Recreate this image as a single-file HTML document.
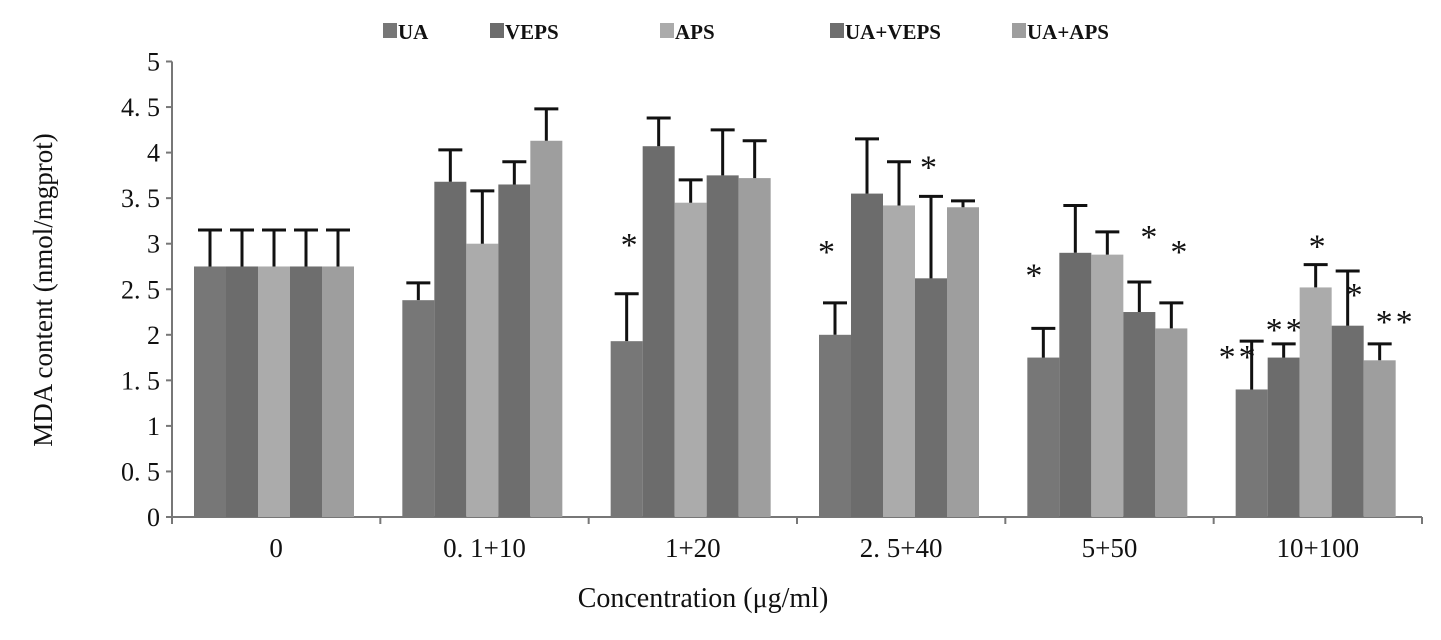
<!DOCTYPE html>
<html><head><meta charset="utf-8"><style>
body{margin:0;background:#fff;width:1441px;height:635px;overflow:hidden}
svg text{font-family:"Liberation Serif","Noto Serif CJK SC",serif;fill:#111}
</style></head><body>
<svg id="chart" width="1441" height="635" xmlns="http://www.w3.org/2000/svg"></svg>
<script>
const categories=["0","0. 1+10","1+20","2. 5+40","5+50","10+100"];
const seriesNames=["UA","VEPS","APS","UA+VEPS","UA+APS"];
const uaVals=[2.75,2.38,1.93,2.0,1.75,1.4];
const vepsVals=[2.75,3.68,4.07,3.55,2.9,1.75];
const apsVals=[2.75,3.0,3.45,3.42,2.88,2.52];
const uaVepsVals=[2.75,3.65,3.75,2.62,2.25,2.1];
const uaApsVals=[2.75,4.13,3.72,3.4,2.07,1.72];
const uaErr=[3.15,2.57,2.45,2.35,2.07,1.93];
const vepsErr=[3.15,4.03,4.38,4.15,3.42,1.9];
const apsErr=[3.15,3.58,3.7,3.9,3.13,2.77];
const uaVepsErr=[3.15,3.9,4.25,3.52,2.58,2.7];
const uaApsErr=[3.15,4.48,4.13,3.47,2.35,1.9];
const marks=[["","","","",""],["","","","",""],["*","","","",""],["*","","","*",""],["*","","","*","*"],["**","**","*","*","**"]];
const yTicks=["0","0. 5","1","1. 5","2","2. 5","3","3. 5","4","4. 5","5"];
const yTickVals=[0,0.5,1,1.5,2,2.5,3,3.5,4,4.5,5];
// annotation placement offsets (style, px relative to error-bar top)
const markOffset={"2-0":[4,-51],"3-0":[-7,-53],"3-3":[-1,-31],"4-0":[-8,-55],"4-3":[11,-47],"4-4":[9,-53],"5-0":[-13,14],"5-1":[2,-16],"5-2":[3,-20],"5-3":[8,22],"5-4":[16,-24]};
const colors=["#777777","#6c6c6c","#ababab","#6e6e6e","#9e9e9e"];
const NS="http://www.w3.org/2000/svg";
const svg=document.getElementById('chart');
const x0=172,x1=1422,y0=517,pxPer=91.1;
const gw=(x1-x0)/categories.length, bw=32;
const Y=v=>y0-v*pxPer;
const X=(g,s)=>x0+g*gw+22+s*bw;
function mk(t,a){const e=document.createElementNS(NS,t);for(const k in a)e.setAttribute(k,a[k]);svg.appendChild(e);return e;}
const vals=[uaVals,vepsVals,apsVals,uaVepsVals,uaApsVals];
const errs=[uaErr,vepsErr,apsErr,uaVepsErr,uaApsErr];
let e=mk('line',{x1:x0,y1:Y(0),x2:x0,y2:Y(5),stroke:'#777','stroke-width':2});

e=mk('line',{x1:x0,y1:y0,x2:x1,y2:y0,stroke:'#777','stroke-width':2});

yTickVals.forEach((v,i)=>{
 mk('line',{x1:x0-6,y1:Y(v),x2:x0,y2:Y(v),stroke:'#777','stroke-width':2});
 const t=mk('text',{x:x0-12,y:Y(v)+9,'text-anchor':'end','font-size':26});
 t.textContent=yTicks[i];
 
});
for(let g=0;g<=categories.length;g++)mk('line',{x1:x0+g*gw,y1:y0,x2:x0+g*gw,y2:y0+7,stroke:'#777','stroke-width':2});
categories.forEach((c,g)=>{
 const t=mk('text',{x:x0+g*gw+gw/2,y:557,'text-anchor':'middle','font-size':27});
 t.textContent=c;
 
 for(let s=0;s<5;s++){
  const v=vals[s][g],er=errs[s][g],x=X(g,s);
  const r=mk('rect',{x:x,y:Y(v),width:bw,height:Y(0)-Y(v),fill:colors[s]});
  
  const cx=x+bw/2;
  const l=mk('path',{d:`M${cx} ${Y(v)}V${Y(er)}M${cx-12} ${Y(er)}H${cx+12}`,stroke:'#111','stroke-width':3,fill:'none'});
  
  if(marks[g][s]){
   const o=markOffset[g+'-'+s]||[0,-30];
   const a=mk('text',{x:cx+o[0],y:Y(er)+o[1]+13,'text-anchor':'middle','font-size':34,'font-family':'Liberation Sans','letter-spacing':3});
   a.textContent=marks[g][s];
   
  }
 }
});
const lx=[383,490,660,830,1012];
seriesNames.forEach((n,i)=>{
 const r=mk('rect',{x:lx[i],y:23,width:14,height:15,fill:colors[i]});
 
 const t=mk('text',{x:lx[i]+15,y:39,'font-size':21,'font-weight':'bold','font-family':'Liberation Sans Narrow, Liberation Sans','textLength':0});
 t.removeAttribute('textLength');
 t.textContent=n;
 
});
let t=mk('text',{x:0,y:0,transform:'translate(52,290) rotate(-90)','text-anchor':'middle','font-size':27});
t.textContent='MDA content (nmol/mgprot)';

t=mk('text',{x:703,y:607,'text-anchor':'middle','font-size':28});
t.textContent='Concentration (μg/ml)';

</script>
</body></html>
